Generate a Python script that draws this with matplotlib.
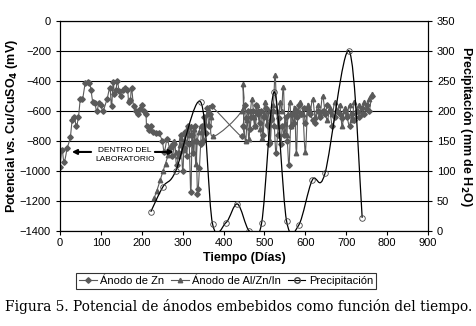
import matplotlib
matplotlib.use('Agg')
import matplotlib.pyplot as plt
from matplotlib.path import Path
from matplotlib.patches import PathPatch
from matplotlib.lines import Line2D
import numpy as np

plt.rcParams['font.family'] = ['Liberation Sans', 'DejaVu Sans']

# Anodo de Zn (dias, mV)
zn_dias = [0, 5, 10, 18, 25, 30, 35, 40, 45, 50, 55, 62, 68, 72, 76, 80, 85, 90, 95, 100,
           105, 115, 122, 126, 130, 133, 137, 140, 145, 150, 153, 158, 165, 168, 172, 175,
           180, 185, 190, 195, 200, 205, 210, 212, 218, 222, 228, 235, 242,
           250, 255, 262, 268, 275, 280, 285, 290, 295, 300, 303, 306, 310, 313, 316, 320,
           323, 326, 330, 333, 336, 338, 341, 344, 347, 350, 353, 356, 360, 364, 368, 371,
           444, 448, 452, 456, 460, 464, 468, 472, 476, 480, 484, 488, 492, 496, 500, 504,
           508, 512, 516, 520, 524, 528, 532, 536, 540, 544, 548, 552, 556, 560, 564, 568,
           572, 576, 580, 584, 590, 596, 600, 606, 612, 618, 624, 630, 636, 642, 648, 654,
           660, 666, 672, 678, 684, 690, 696, 702, 708, 714, 720, 726, 732, 738, 744, 750,
           756, 762]
zn_mv = [-970, -860, -940, -845, -775, -660, -640, -700, -640, -520, -520, -415, -410, -415,
         -460, -540, -550, -600, -550, -560, -600, -520, -450, -565, -410, -490, -460, -400,
         -470, -500, -460, -450, -460, -540, -530, -450, -570, -600, -620, -590, -560, -600,
         -620, -700, -730, -700, -740, -750, -750,
         -800, -870, -790, -850, -900, -820, -960, -880, -760, -1000, -850, -740, -900, -700,
         -820, -1140, -760, -880, -700, -800, -1150, -1120, -980, -820, -700, -800, -640,
         -750, -580, -700, -620, -570,
         -770, -700, -560, -650, -600, -720, -640, -600, -700, -560, -620, -680, -600, -760,
         -640, -580, -700, -820, -660, -600, -700, -880, -760, -650, -820, -700, -760, -640,
         -800, -960, -700, -620, -680, -600, -640, -560, -620, -580, -680, -590, -620, -660,
         -680, -600, -640, -600, -620, -560, -600, -700, -640, -600, -620, -650, -600, -640,
         -700, -620, -660, -600, -640, -580, -620, -560, -600, -500]

# Anodo de Al/Zn/In (dias, mV)
al_dias = [230, 237, 245, 252, 258, 265, 272, 278, 283, 288, 293, 297, 302, 306, 310, 313,
           317, 320, 324, 328, 332, 336, 340, 345, 350, 355, 360, 365, 370, 375,
           444, 447, 450, 454, 458, 462, 466, 470, 474, 478, 482, 486, 490, 494, 498, 502,
           506, 510, 514, 518, 522, 526, 530, 534, 538, 542, 546, 550, 554, 558, 562, 566,
           570, 574, 578, 582, 588, 594, 600, 606, 612, 618, 624, 630, 636, 642, 648, 654,
           660, 666, 672, 678, 684, 690, 696, 702, 708, 714, 720, 726, 732, 738, 744, 750,
           756, 762]
al_mv = [-1180, -1130, -1060, -1000, -950, -890, -830, -800, -870, -900, -830, -780, -860,
         -800, -730, -700, -760, -700, -800, -720, -950, -800, -740, -700, -790, -680, -620,
         -600, -640, -770,
         -600, -420, -700, -800, -660, -790, -600, -520, -640, -700, -560, -600, -720, -780,
         -620, -540, -680, -600, -800, -640, -560, -360, -600, -700, -540, -600, -440, -680,
         -760, -620, -540, -700, -620, -580, -880, -600, -540, -620, -870, -560, -600, -520,
         -640, -560, -620, -500, -600, -660, -580, -620, -540, -600, -560, -700, -580, -620,
         -560, -660, -540, -600, -560, -620, -540, -580, -520, -490]

# Precipitacion (dias, mm de H2O)
pr_dias = [222, 252, 283, 344, 373, 406, 434, 463, 493, 524, 554, 584, 617, 648, 707, 739]
pr_mm = [32, 74, 100, 215, 12, 14, 45, 0, 13, 232, 17, 10, 85, 96, 300, 22]


def suave(x, y):
    # curva suavizada (tipo Excel) con Bezier cubico
    p = np.column_stack([x, y]).astype(float)
    verts = [p[0]]
    codes = [Path.MOVETO]
    n = len(p)
    for i in range(n - 1):
        p0 = p[i - 1] if i > 0 else p[i]
        p3 = p[i + 2] if i + 2 < n else p[i + 1]
        c1 = p[i] + (p[i + 1] - p0) / 6.0
        c2 = p[i + 1] - (p3 - p[i]) / 6.0
        verts += [c1, c2, p[i + 1]]
        codes += [Path.CURVE4] * 3
    return Path(verts, codes)


gris = '#5a5a5a'
fig = plt.figure(figsize=(4.77, 3.26), dpi=100)
ax = fig.add_axes([0.1258, 0.2914, 0.7715, 0.6442])
ax2 = ax.twinx()

ax.add_patch(PathPatch(suave(zn_dias, zn_mv), fill=False, ec=gris, lw=0.8))
ax.plot(zn_dias, zn_mv, ls='none', marker='D', ms=2.8, color=gris)
ax.add_patch(PathPatch(suave(al_dias, al_mv), fill=False, ec=gris, lw=0.8))
ax.plot(al_dias, al_mv, ls='none', marker='^', ms=3.2, color=gris)

ax2.add_patch(PathPatch(suave(pr_dias, pr_mm), fill=False, ec='black', lw=0.9))
ax2.plot(pr_dias, pr_mm, ls='none', marker='o', ms=4, mfc='none', mec='#444444', mew=0.6)

ax.set_xlim(0, 900)
ax.set_ylim(-1400, 0)
ax2.set_ylim(0, 350)
ax.set_xticks(range(0, 901, 100))
ax.set_yticks(range(-1400, 1, 200))
ax2.set_yticks(range(0, 351, 50))
ax.yaxis.grid(True, color='black', lw=0.8)
ax.set_axisbelow(True)
for a in (ax, ax2):
    a.tick_params(labelsize=8, length=3, width=0.8, direction='out')
    for s in a.spines.values():
        s.set_linewidth(0.8)
        s.set_color('black')
ax.tick_params(axis='x', pad=2)

ax.set_xlabel('Tiempo (Días)', fontsize=9, fontweight='bold', labelpad=3)
ax.set_ylabel('Potencial vs. Cu/CuSO$_\\mathbf{4}$ (mV)', fontsize=9, fontweight='bold', labelpad=0)
ax2.set_ylabel('Precipitación (mm de H$_\\mathbf{2}$O)', fontsize=9, fontweight='bold',
               rotation=270, labelpad=13)

ax.text(159, -893, 'DENTRO DEL\nLABORATORIO', fontsize=6, ha='center', va='center',
        linespacing=1.3)
ax.annotate('', xy=(29, -873), xytext=(76, -873),
            arrowprops=dict(arrowstyle='-|>', lw=1.5, color='black', mutation_scale=7,
                            shrinkA=0, shrinkB=0))
ax.annotate('', xy=(278, -873), xytext=(232, -873),
            arrowprops=dict(arrowstyle='-|>', lw=1.5, color='black', mutation_scale=7,
                            shrinkA=0, shrinkB=0))

h = [Line2D([], [], color=gris, marker='D', ms=2.8, lw=0.8),
     Line2D([], [], color=gris, marker='^', ms=3.2, lw=0.8),
     Line2D([], [], color='black', marker='o', ms=4, mfc='none', mec='#444444', lw=0.8)]
leg = fig.legend(h, ['Ánodo de Zn', 'Ánodo de Al/Zn/In', 'Precipitación'], ncol=3,
                 loc='center', bbox_to_anchor=(0.474, 0.138), fontsize=8, frameon=True,
                 fancybox=False, handlelength=1.6, handletextpad=0.3, columnspacing=0.6,
                 borderpad=0.25, borderaxespad=0)
leg.get_frame().set_edgecolor('black')
leg.get_frame().set_linewidth(0.8)

fig.text(0.5, 0.061, 'Figura 5. Potencial de ánodos embebidos como función del tiempo.',
         ha='center', va='center', fontsize=9.9, family='DejaVu Serif')

fig.savefig('out.png', dpi=100)
